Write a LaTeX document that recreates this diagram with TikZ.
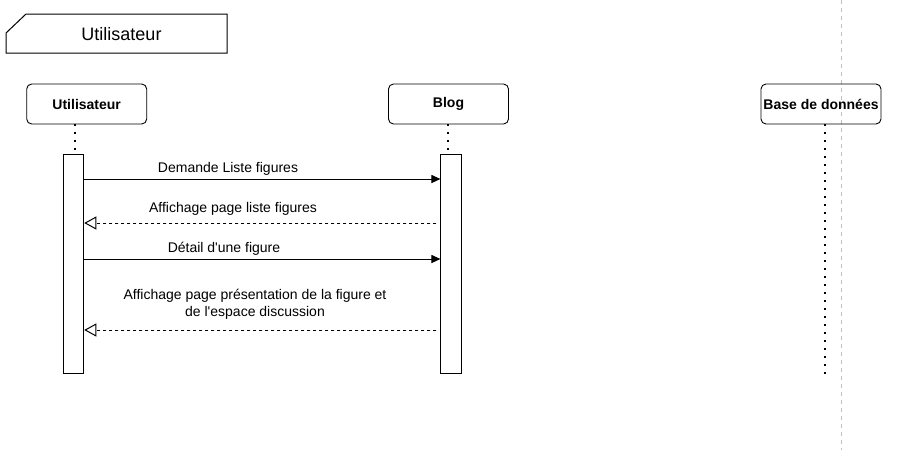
\documentclass[tikz,border=0pt]{standalone}
\usepackage{fontspec}
\setmainfont{Liberation Sans}
\usetikzlibrary{arrows.meta}
\begin{document}
\begin{tikzpicture}[x=1pt,y=-1pt,
  part/.style={draw, line width=0.9pt, rounded corners=5pt, minimum width=120pt, minimum height=40pt, inner sep=0pt, font=\bfseries\fontsize{14}{16}\selectfont},
  actbar/.style={draw, line width=1pt, fill=white, minimum width=20.5pt, minimum height=219pt, inner sep=0pt},
  life/.style={line width=2pt, dash pattern=on 2pt off 6pt},
  msg/.style={line width=1pt, -{Triangle[length=9pt,width=8pt]}},
  ret/.style={line width=1pt, dash pattern=on 3pt off 3pt, -{Triangle[open,length=12pt,width=13pt]}},
  lbl/.style={font=\fontsize{14}{17}\selectfont, align=center, inner sep=0pt},
  sep/.style={draw=black!25, line width=0.8pt, dash pattern=on 4pt off 4pt}]
\useasboundingbox (0,0) rectangle (918,450);
% separator
\coordinate (septop) at (841,0);
\coordinate (sepbot) at (841,450);
\draw[sep] (septop) -- (sepbot);
% frame
\draw[line width=1pt] (26,14) -- (227,14) -- (227,53) -- (6,53) -- (6,33) -- cycle;
\node[font=\fontsize{18}{20}\selectfont, inner sep=0pt] (ftitle) at (121.5,34) {Utilisateur};
% participants
\node[part] (u) at (86.7,104) {Utilisateur};
\node[part] (b) at (448.5,104) {Blog};
\node[part] (d) at (821,104) {Base de données};
% activation bars
\node[actbar] (au) at (73.5,263.5) {};
\node[actbar] (ab) at (451.2,263.5) {};
% lifelines
\coordinate (ut) at (75,124);
\coordinate (ub) at (75,154);
\coordinate (bt) at (448,124);
\coordinate (bb) at (448,154);
\coordinate (dt) at (825,124);
\coordinate (db) at (825,374);
\draw[life] (ut) -- (ub);
\draw[life] (bt) -- (bb);
\draw[life] (dt) -- (db);
% messages
\draw[msg] (au.east |- 0,179) coordinate (m1s) -- (ab.west |- 0,179) coordinate (m1e);
\node[lbl] (l1) at (228,169) {Demande Liste figures};
\draw[ret] ([xshift=-4pt]ab.west |- 0,223) coordinate (m2s) -- (au.east |- 0,223) coordinate (m2e);
\node[lbl] (l2) at (233,209) {Affichage page liste figures};
\draw[msg] (au.east |- 0,259) coordinate (m3s) -- (ab.west |- 0,259) coordinate (m3e);
\node[lbl] (l3) at (224,249) {Détail d\textquotesingle une figure};
\draw[ret] ([xshift=-4pt]ab.west |- 0,330) coordinate (m4s) -- (au.east |- 0,330) coordinate (m4e);
\node[lbl] (l4) at (255,304.5) {Affichage page présentation de la figure et\\de l\textquotesingle espace discussion};
\end{tikzpicture}
\end{document}
